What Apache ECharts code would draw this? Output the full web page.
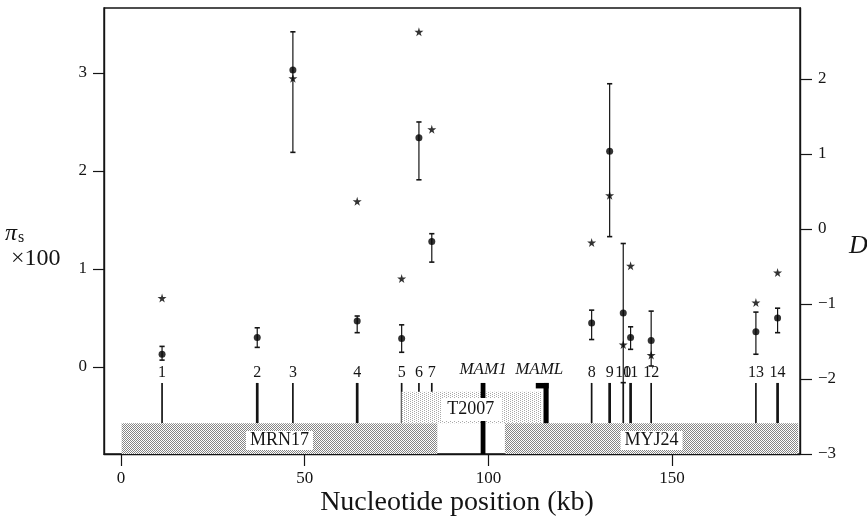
<!DOCTYPE html>
<html><head><meta charset="utf-8">
<script src="https://cdn.jsdelivr.net/npm/echarts@6/dist/echarts.min.js"></script>
<style>html,body{margin:0;padding:0;background:#fff}#c{width:867px;height:518px}</style>
</head><body><div id="c"></div>
<script>
// ---------------- data ----------------
const regionLabels = ['1','2','3','4','5','6','7','8','9','10','11','12','13','14'];
const regionPos    = [11.2, 37.1, 46.8, 64.3, 76.4, 81.1, 84.6, 128.1, 133.0, 136.7, 138.7, 144.3, 172.8, 178.7];
const regionWeight = [1, 2, 1, 2, 1, 1, 1, 1, 2, 1, 2, 1, 1, 2];
const piMean = [0.13, 0.30, 3.03, 0.47, 0.29, 2.34, 1.28, 0.45, 2.20, 0.55, 0.30, 0.27, 0.36, 0.50];
const piLow  = [0.07, 0.20, 2.19, 0.35, 0.15, 1.91, 1.07, 0.28, 1.33, -0.16, 0.18, 0.01, 0.13, 0.35];
const piHigh = [0.21, 0.40, 3.42, 0.52, 0.43, 2.50, 1.36, 0.58, 2.89, 1.26, 0.41, 0.57, 0.56, 0.60];
const tajimaD = [-0.92, null, 2.01, 0.37, -0.66, 2.63, 1.33, -0.18, 0.45, -1.54, -0.49, -1.68, -0.98, -0.58];
const cloneNames = ['MRN17', 'T2007', 'MYJ24'];
const cloneStart = [0.2, 76.4, 104.5];
const cloneEnd   = [86.1, 114.5, 184.3];
const geneNames = ['MAM1', 'MAML'];
const geneStart = [97.9, 112.9];
const geneEnd   = [99.2, 116.4];
const mamlStemStart = 115.0;
const xTicks  = [0, 50, 100, 150];
const piTicks = [0, 1, 2, 3];
const dTicks  = [-3, -2, -1, 0, 1, 2];

// ---------------- layout constants ----------------
const X_MIN = -4.6, X_MAX = 184.8;
const PI_MIN = -0.888, PI_MAX = 3.663;
const D_MIN = -3, D_MAX = 2.947;
const NUM_Y = -0.061, GENE_LABEL_Y = -0.026;
const TICK_TOP = -0.163, TICK_BOT = -0.574, ROW1_TOP = -0.252, CAP_BOT = -0.219;
const SERIF = '"Liberation Serif", "Times New Roman", serif';
const INK = '#141414';

function makePattern(dense) {
  const c = document.createElement('canvas'); c.width = 4; c.height = 4;
  const g = c.getContext('2d'); g.fillStyle = '#fff'; g.fillRect(0, 0, 4, 4);
  g.fillStyle = dense ? '#858585' : '#a8a8a8';
  const pts = dense ? [[0,0],[2,0],[1,1],[3,1],[0,2],[2,2],[1,3],[3,3]] : [[0,0],[2,1],[0,2],[2,3]];
  pts.forEach(p => g.fillRect(p[0], p[1], 1, 1));
  return { type: 'pattern', image: c, repeat: 'repeat' };
}
const densePat = makePattern(true), lightPat = makePattern(false);
const cloneRowOf = name => (name === 'T2007' ? 1 : 0);

const chart = echarts.init(document.getElementById('c'), null, { renderer: 'canvas' });
const minus = v => String(v).replace('-', '\u2212');

const option = {
  animation: false,
  backgroundColor: '#fff',
  grid: { left: 104, right: 67, top: 8, bottom: 64, containLabel: false, outerBoundsMode: 'none',
          show: true, borderColor: INK, borderWidth: 1.4, backgroundColor: 'transparent' },
  xAxis: {
    type: 'value', min: X_MIN, max: X_MAX,
    axisLine: { show: true, onZero: false, lineStyle: { color: INK, width: 1.4 } },
    axisTick: { show: true, customValues: xTicks, length: 12, lineStyle: { color: INK, width: 1.2 } },
    axisLabel: { show: true, customValues: xTicks, margin: 16, color: INK, fontFamily: SERIF, fontSize: 17 },
    splitLine: { show: false }
  },
  yAxis: [{
    type: 'value', min: PI_MIN, max: PI_MAX, position: 'left',
    axisLine: { show: true, onZero: false, lineStyle: { color: INK, width: 1.4 } },
    axisTick: { show: true, customValues: piTicks, length: 11, lineStyle: { color: INK, width: 1.2 } },
    axisLabel: { show: true, customValues: piTicks, margin: 17, color: INK, fontFamily: SERIF, fontSize: 17 },
    splitLine: { show: false }
  }, {
    type: 'value', min: D_MIN, max: D_MAX, position: 'right',
    axisLine: { show: true, onZero: false, lineStyle: { color: INK, width: 1.4 } },
    axisTick: { show: true, customValues: dTicks, length: 12, lineStyle: { color: INK, width: 1.2 } },
    axisLabel: { show: true, customValues: dTicks, margin: 18, color: INK, fontFamily: SERIF, fontSize: 17,
                 formatter: v => minus(v) },
    splitLine: { show: false }
  }],
  graphic: [
    { type: 'text', left: 5, top: 222, style: { text: '{p|\u03C0}{s|s}', rich: {
        p: { fontFamily: SERIF, fontStyle: 'italic', fontSize: 24, fill: INK, verticalAlign: 'bottom' },
        s: { fontFamily: SERIF, fontSize: 16, fill: INK, verticalAlign: 'bottom', padding: [0,0,0,1] } } } },
    { type: 'text', left: 11, top: 247, style: { text: '\u00D7100', font: '24px ' + SERIF, fill: INK } },
    { type: 'text', left: 849, top: 233, style: { text: 'D', font: 'italic 26px ' + SERIF, fill: INK } },
    { type: 'text', x: 457, y: 503, style: { text: 'Nucleotide position (kb)', font: '28px ' + SERIF, fill: INK,
        align: 'center', verticalAlign: 'middle' } }
  ],
  series: [
    { // region ticks + numbers
      type: 'custom', z: 2, xAxisIndex: 0, yAxisIndex: 0, clip: false,
      data: regionPos.map((p, i) => [p, regionWeight[i], i]),
      renderItem: (params, api) => {
        const x = api.value(0), w = api.value(1), i = api.value(2);
        const a = api.coord([x, TICK_TOP]), b = api.coord([x, TICK_BOT]), t = api.coord([x, NUM_Y]);
        return { type: 'group', children: [
          { type: 'line', shape: { x1: a[0], y1: a[1], x2: b[0], y2: b[1] },
            style: { stroke: INK, lineWidth: w === 2 ? 2.7 : 1.7 } },
          { type: 'text', x: t[0], y: t[1], style: { text: regionLabels[i], font: '16px ' + SERIF, fill: INK,
            align: 'center', verticalAlign: 'middle' } }
        ]};
      }
    },
    { // clone boxes
      type: 'custom', z: 3, xAxisIndex: 0, yAxisIndex: 0, clip: false,
      data: cloneStart.map((s, i) => [s, cloneEnd[i], i]),
      renderItem: (params, api) => {
        const i = api.value(2), row = cloneRowOf(cloneNames[i]);
        const top = row === 1 ? ROW1_TOP : TICK_BOT, bot = row === 1 ? TICK_BOT : PI_MIN;
        const p1 = api.coord([api.value(0), top]), p2 = api.coord([api.value(1), bot]);
        return { type: 'rect', shape: { x: p1[0], y: p1[1], width: p2[0] - p1[0], height: p2[1] - p1[1] },
                 style: { fill: row === 1 ? lightPat : densePat, stroke: null } };
      }
    },
    { // MAM genes
      type: 'custom', z: 4, xAxisIndex: 0, yAxisIndex: 0, clip: false,
      data: geneStart.map((s, i) => [s, geneEnd[i], i]),
      renderItem: (params, api) => {
        const i = api.value(2), s = api.value(0), e = api.value(1);
        const lab = api.coord([(s + e) / 2, GENE_LABEL_Y]);
        const kids = [];
        if (geneNames[i] === 'MAM1') {
          const p1 = api.coord([s, TICK_TOP]), p2 = api.coord([e, PI_MIN]);
          kids.push({ type: 'rect', shape: { x: p1[0], y: p1[1], width: p2[0] - p1[0], height: p2[1] - p1[1] }, style: { fill: '#000' } });
        } else {
          const p1 = api.coord([s, TICK_TOP]), p2 = api.coord([e, CAP_BOT]);
          kids.push({ type: 'rect', shape: { x: p1[0], y: p1[1], width: p2[0] - p1[0], height: p2[1] - p1[1] }, style: { fill: '#000' } });
          const q1 = api.coord([mamlStemStart, TICK_TOP]), q2 = api.coord([e, TICK_BOT]);
          kids.push({ type: 'rect', shape: { x: q1[0], y: q1[1], width: q2[0] - q1[0], height: q2[1] - q1[1] }, style: { fill: '#000' } });
        }
        kids.push({ type: 'text', x: lab[0] + (geneNames[i] === 'MAML' ? -3 : 0), y: lab[1],
          style: { text: geneNames[i], font: 'italic 17px ' + SERIF, fill: INK, align: 'center', verticalAlign: 'middle' } });
        return { type: 'group', children: kids };
      }
    },
    { // clone labels
      type: 'custom', z: 5, xAxisIndex: 0, yAxisIndex: 0, clip: false,
      data: cloneStart.map((s, i) => [s, cloneEnd[i], i]),
      renderItem: (params, api) => {
        const i = api.value(2), row = cloneRowOf(cloneNames[i]);
        const top = row === 1 ? ROW1_TOP : TICK_BOT, bot = row === 1 ? TICK_BOT : PI_MIN;
        const c = api.coord([(api.value(0) + api.value(1)) / 2, (top + bot) / 2]);
        return { type: 'text', x: c[0], y: c[1] + 2, style: { text: cloneNames[i], font: '18px ' + SERIF, fill: INK,
          align: 'center', verticalAlign: 'middle', backgroundColor: '#fff', padding: row === 1 ? [3, 8, 2, 6] : [1, 4, 0, 4] } };
      }
    },
    { // error bars
      type: 'custom', z: 6, xAxisIndex: 0, yAxisIndex: 0,
      data: regionPos.map((p, i) => [p, piLow[i], piHigh[i]]),
      renderItem: (params, api) => {
        const x = api.value(0);
        const lo = api.coord([x, api.value(1)]), hi = api.coord([x, api.value(2)]);
        const w = 2.6, st = { stroke: INK, lineWidth: 1.2 };
        return { type: 'group', children: [
          { type: 'line', shape: { x1: lo[0], y1: lo[1], x2: hi[0], y2: hi[1] }, style: st },
          { type: 'line', shape: { x1: hi[0] - w, y1: hi[1], x2: hi[0] + w, y2: hi[1] }, style: { stroke: INK, lineWidth: 1.6 } },
          { type: 'line', shape: { x1: lo[0] - w, y1: lo[1], x2: lo[0] + w, y2: lo[1] }, style: { stroke: INK, lineWidth: 1.6 } }
        ]};
      }
    },
    { // pi means
      type: 'scatter', z: 7, xAxisIndex: 0, yAxisIndex: 0, symbol: 'circle', symbolSize: 7,
      itemStyle: { color: '#000' },
      data: regionPos.map((p, i) => [p, piMean[i]])
    },
    { // Tajima's D
      type: 'scatter', z: 8, xAxisIndex: 0, yAxisIndex: 1,
      symbol: 'path://M50,0 L61,35 L98,35 L68,57 L79,91 L50,70 L21,91 L32,57 L2,35 L39,35 Z', symbolSize: 9,
      itemStyle: { color: '#000' },
      data: regionPos.map((p, i) => [p, tajimaD[i]]).filter(d => d[1] !== null)
    }
  ]
};
chart.setOption(option);
</script></body></html>
